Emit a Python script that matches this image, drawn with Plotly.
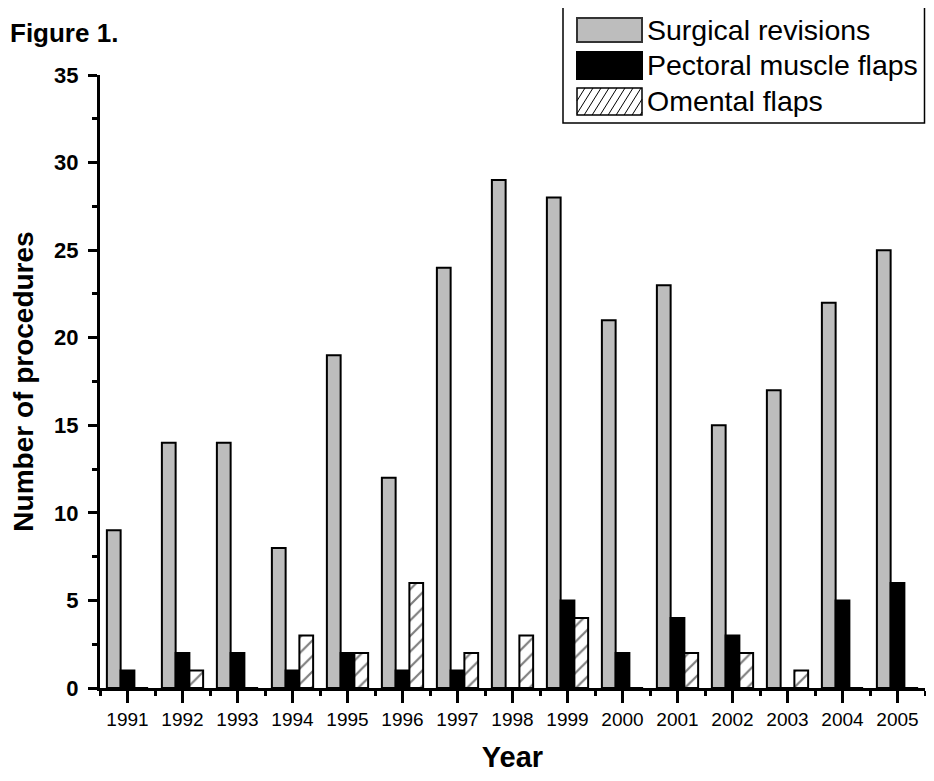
import plotly.graph_objects as go

years = list(range(1991, 2006))
surgical_revisions = [9, 14, 14, 8, 19, 12, 24, 29, 28, 21, 23, 15, 17, 22, 25]
pectoral_flaps = [1, 2, 2, 1, 2, 1, 1, 0, 5, 2, 4, 3, 0, 5, 6]
omental_flaps = [0, 1, 0, 3, 2, 6, 2, 3, 4, 0, 2, 2, 1, 0, 0]
series_names = ["Surgical revisions", "Pectoral muscle flaps", "Omental flaps"]
x_title = "Year"
y_title = "Number of procedures"
fig_label = "Figure 1."

OFF = 8  # page body margin
W, H = 934 - 2 * OFF, 781 - 2 * OFF
L, T = 100 - OFF, 75 - OFF
R = max(W - (925 - OFF), 0)
B = H - (688 - OFF)
PW, PH = W - L - R, H - T - B

def px(x):  # page pixel -> paper
    return (x - OFF - L) / PW

def py(y):
    return (H - B - (y - OFF)) / PH

FONT = "Liberation Sans, Arial, sans-serif"
GRAY = "#bdbdbd"

fig = go.Figure()
fig.add_trace(go.Bar(x=years, y=surgical_revisions, name=series_names[0],
                     marker=dict(color=GRAY, line=dict(color="black", width=2))))
fig.add_trace(go.Bar(x=years, y=pectoral_flaps, name=series_names[1],
                     marker=dict(color="black", line=dict(color="black", width=2))))
fig.add_trace(go.Bar(x=years, y=omental_flaps, name=series_names[2],
                     marker=dict(color="white", line=dict(color="black", width=2),
                                 pattern=dict(shape="/", fgcolor="black", bgcolor="white",
                                              size=11, solidity=0.2))))

shapes = []
annotations = []

# custom legend
shapes.append(dict(type="rect", xref="paper", yref="paper",
                   x0=px(563), x1=px(924.5), y0=py(2), y1=py(123),
                   line=dict(color="black", width=1.5), fillcolor="white", layer="above"))
sw = [(18, 42), (52, 79), (88, 115)]
sx0, sx1 = 577, 642
shapes.append(dict(type="rect", xref="paper", yref="paper",
                   x0=px(sx0), x1=px(sx1), y0=py(sw[0][0]), y1=py(sw[0][1]),
                   line=dict(color="#333333", width=2), fillcolor=GRAY, layer="above"))
shapes.append(dict(type="rect", xref="paper", yref="paper",
                   x0=px(sx0), x1=px(sx1), y0=py(sw[1][0]), y1=py(sw[1][1]),
                   line=dict(color="black", width=2), fillcolor="black", layer="above"))
shapes.append(dict(type="rect", xref="paper", yref="paper",
                   x0=px(sx0), x1=px(sx1), y0=py(sw[2][0]), y1=py(sw[2][1]),
                   line=dict(color="black", width=1.5), fillcolor="white", layer="above"))
# hatch lines inside third swatch, slope "/" (clipped)
top, bot = sw[2]
h = bot - top
slope = 1.6  # dy per dx
dxs = h / slope
step = 8
start = sx0 - dxs
k = 0
while start + k * step < sx1:
    xa = start + k * step
    xb = xa + dxs
    ya, yb = bot, top
    if xa < sx0:
        ya = bot - (sx0 - xa) * slope
        xa = sx0
    if xb > sx1:
        yb = top + (xb - sx1) * slope
        xb = sx1
    if xb > xa:
        shapes.append(dict(type="line", xref="paper", yref="paper",
                           x0=px(xa), y0=py(ya), x1=px(xb), y1=py(yb),
                           line=dict(color="black", width=1), layer="above"))
    k += 1
for i, name in enumerate(series_names):
    yc = (sw[i][0] + sw[i][1]) / 2
    annotations.append(dict(text=name, xref="paper", yref="paper", x=px(645), y=py(yc),
                            xanchor="left", yanchor="middle", showarrow=False,
                            font=dict(family=FONT, size=28.5, color="black")))

annotations.append(dict(text="<b>" + fig_label + "</b>", xref="paper", yref="paper",
                        x=px(OFF), y=py(33), xanchor="left", yanchor="middle", showarrow=False,
                        font=dict(family=FONT, size=26, color="black")))

fig.update_layout(
    width=W, height=H,
    margin=dict(l=L, r=R, t=T, b=B),
    paper_bgcolor="white", plot_bgcolor="white",
    barmode="group", bargap=0.25, bargroupgap=0,
    showlegend=False,
    shapes=shapes, annotations=annotations,
    font=dict(family=FONT, color="black"),
)
fig.update_xaxes(
    range=[1990.5, 2005.5], tickmode="array", tickvals=years, ticktext=[str(y) for y in years],
    ticks="outside", ticklen=12, tickwidth=3, tickcolor="black",
    showline=True, linewidth=3, linecolor="black", showgrid=False, zeroline=False,
    tickfont=dict(family=FONT, size=19, color="black"),
    minor=dict(tickmode="linear", tick0=1990.5, dtick=1, ticks="outside", ticklen=5,
               tickwidth=3, tickcolor="black", showgrid=False),
    title=dict(text="<b>" + x_title + "</b>", font=dict(family=FONT, size=29, color="black"), standoff=18),
)
fig.update_yaxes(
    range=[0, 35], tickmode="linear", tick0=0, dtick=5,
    ticks="outside", ticklen=9, tickwidth=3, tickcolor="black", ticklabelstandoff=5,
    showline=True, linewidth=3, linecolor="black", showgrid=False, zeroline=False,
    tickfont=dict(family=FONT, size=22, color="black", weight="bold"),
    minor=dict(tickmode="linear", tick0=0, dtick=2.5, ticks="outside", ticklen=5,
               tickwidth=3, tickcolor="black", showgrid=False),
    title=dict(text="<b>" + y_title + "</b>", font=dict(family=FONT, size=28, color="black"), standoff=17),
)

fig.write_html("out.html")
